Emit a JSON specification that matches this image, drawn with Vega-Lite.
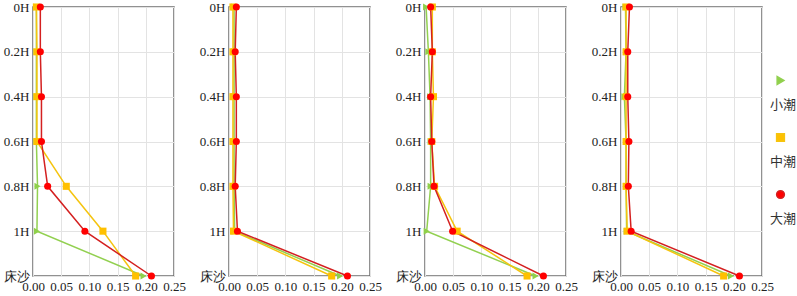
{
  "$schema": "https://vega.github.io/schema/vega-lite/v6.json",
  "padding": {"left": 2, "top": 0, "right": 0, "bottom": 0},
  "background": "white",
  "data": {"values": [
    {"p":1,"t":"小潮","d":"0H","v":0.006},{"p":1,"t":"小潮","d":"0.2H","v":0.006},{"p":1,"t":"小潮","d":"0.4H","v":0.006},{"p":1,"t":"小潮","d":"0.6H","v":0.006},{"p":1,"t":"小潮","d":"0.8H","v":0.008},{"p":1,"t":"小潮","d":"1H","v":0.007},{"p":1,"t":"小潮","d":"床沙","v":0.196},
    {"p":1,"t":"中潮","d":"0H","v":0.006},{"p":1,"t":"中潮","d":"0.2H","v":0.007},{"p":1,"t":"中潮","d":"0.4H","v":0.007},{"p":1,"t":"中潮","d":"0.6H","v":0.007},{"p":1,"t":"中潮","d":"0.8H","v":0.059},{"p":1,"t":"中潮","d":"1H","v":0.124},{"p":1,"t":"中潮","d":"床沙","v":0.182},
    {"p":1,"t":"大潮","d":"0H","v":0.013},{"p":1,"t":"大潮","d":"0.2H","v":0.013},{"p":1,"t":"大潮","d":"0.4H","v":0.015},{"p":1,"t":"大潮","d":"0.6H","v":0.015},{"p":1,"t":"大潮","d":"0.8H","v":0.026},{"p":1,"t":"大潮","d":"1H","v":0.092},{"p":1,"t":"大潮","d":"床沙","v":0.210},
    {"p":2,"t":"小潮","d":"0H","v":0.009},{"p":2,"t":"小潮","d":"0.2H","v":0.009},{"p":2,"t":"小潮","d":"0.4H","v":0.009},{"p":2,"t":"小潮","d":"0.6H","v":0.009},{"p":2,"t":"小潮","d":"0.8H","v":0.009},{"p":2,"t":"小潮","d":"1H","v":0.010},{"p":2,"t":"小潮","d":"床沙","v":0.197},
    {"p":2,"t":"中潮","d":"0H","v":0.007},{"p":2,"t":"中潮","d":"0.2H","v":0.007},{"p":2,"t":"中潮","d":"0.4H","v":0.007},{"p":2,"t":"中潮","d":"0.6H","v":0.007},{"p":2,"t":"中潮","d":"0.8H","v":0.007},{"p":2,"t":"中潮","d":"1H","v":0.008},{"p":2,"t":"中潮","d":"床沙","v":0.182},
    {"p":2,"t":"大潮","d":"0H","v":0.013},{"p":2,"t":"大潮","d":"0.2H","v":0.011},{"p":2,"t":"大潮","d":"0.4H","v":0.013},{"p":2,"t":"大潮","d":"0.6H","v":0.013},{"p":2,"t":"大潮","d":"0.8H","v":0.011},{"p":2,"t":"大潮","d":"1H","v":0.015},{"p":2,"t":"大潮","d":"床沙","v":0.210},
    {"p":3,"t":"小潮","d":"0H","v":0.002},{"p":3,"t":"小潮","d":"0.2H","v":0.006},{"p":3,"t":"小潮","d":"0.4H","v":0.009},{"p":3,"t":"小潮","d":"0.6H","v":0.010},{"p":3,"t":"小潮","d":"0.8H","v":0.010},{"p":3,"t":"小潮","d":"1H","v":0.003},{"p":3,"t":"小潮","d":"床沙","v":0.196},
    {"p":3,"t":"中潮","d":"0H","v":0.013},{"p":3,"t":"中潮","d":"0.2H","v":0.013},{"p":3,"t":"中潮","d":"0.4H","v":0.015},{"p":3,"t":"中潮","d":"0.6H","v":0.012},{"p":3,"t":"中潮","d":"0.8H","v":0.017},{"p":3,"t":"中潮","d":"1H","v":0.057},{"p":3,"t":"中潮","d":"床沙","v":0.181},
    {"p":3,"t":"大潮","d":"0H","v":0.010},{"p":3,"t":"大潮","d":"0.2H","v":0.013},{"p":3,"t":"大潮","d":"0.4H","v":0.010},{"p":3,"t":"大潮","d":"0.6H","v":0.012},{"p":3,"t":"大潮","d":"0.8H","v":0.016},{"p":3,"t":"大潮","d":"1H","v":0.049},{"p":3,"t":"大潮","d":"床沙","v":0.210},
    {"p":4,"t":"小潮","d":"0H","v":0.008},{"p":4,"t":"小潮","d":"0.2H","v":0.009},{"p":4,"t":"小潮","d":"0.4H","v":0.006},{"p":4,"t":"小潮","d":"0.6H","v":0.009},{"p":4,"t":"小潮","d":"0.8H","v":0.009},{"p":4,"t":"小潮","d":"1H","v":0.010},{"p":4,"t":"小潮","d":"床沙","v":0.195},
    {"p":4,"t":"中潮","d":"0H","v":0.009},{"p":4,"t":"中潮","d":"0.2H","v":0.009},{"p":4,"t":"中潮","d":"0.4H","v":0.009},{"p":4,"t":"中潮","d":"0.6H","v":0.009},{"p":4,"t":"中潮","d":"0.8H","v":0.009},{"p":4,"t":"中潮","d":"1H","v":0.011},{"p":4,"t":"中潮","d":"床沙","v":0.182},
    {"p":4,"t":"大潮","d":"0H","v":0.015},{"p":4,"t":"大潮","d":"0.2H","v":0.012},{"p":4,"t":"大潮","d":"0.4H","v":0.012},{"p":4,"t":"大潮","d":"0.6H","v":0.014},{"p":4,"t":"大潮","d":"0.8H","v":0.013},{"p":4,"t":"大潮","d":"1H","v":0.018},{"p":4,"t":"大潮","d":"床沙","v":0.210}
  ]},
  "spacing": 11,
  "hconcat": [
    {"width": 141, "height": 269, "transform": [{"filter": "datum.p == 1"}],
     "encoding": {
       "x": {"field": "v", "type": "quantitative", "title": null, "scale": {"domain": [0, 0.25], "nice": false},
         "axis": {"values": [0, 0.05, 0.1, 0.15, 0.2, 0.25], "format": ".2f"}},
       "y": {"field": "d", "type": "ordinal", "title": null, "scale": {"type": "point", "padding": 0, "domain": ["0H","0.2H","0.4H","0.6H","0.8H","1H","床沙"]}, "axis": {"grid": true}}
     },
     "layer": [
       {"mark": {"type": "line", "strokeWidth": 1.5}, "encoding": {"stroke": {"field": "t", "type": "nominal", "scale": {"domain": ["小潮","中潮","大潮"], "range": ["#92d050", "#f5c40f", "#d42020"]}}, "order": {"value": null}}},
       {"mark": {"type": "point", "filled": true, "opacity": 1, "size": 50}, "encoding": {
         "color": {"field": "t", "type": "nominal", "scale": {"domain": ["小潮","中潮","大潮"], "range": ["#8fd04a", "#ffc000", "#ff0000"]},
           "legend": {"encoding": {
             "labels": {"dx": {"value": -3.9}, "dy": {"value": 24}},
             "symbols": {"size": {"value": 60}}}}},
         "shape": {"field": "t", "type": "nominal", "scale": {"domain": ["小潮","中潮","大潮"], "range": ["triangle-right", "square", "circle"]}}}}
     ]},
    {"width": 141, "height": 269, "transform": [{"filter": "datum.p == 2"}],
     "encoding": {
       "x": {"field": "v", "type": "quantitative", "title": null, "scale": {"domain": [0, 0.25], "nice": false},
         "axis": {"values": [0, 0.05, 0.1, 0.15, 0.2, 0.25], "format": ".2f"}},
       "y": {"field": "d", "type": "ordinal", "title": null, "scale": {"type": "point", "padding": 0, "domain": ["0H","0.2H","0.4H","0.6H","0.8H","1H","床沙"]}, "axis": {"grid": true}}
     },
     "layer": [
       {"mark": {"type": "line", "strokeWidth": 1.5}, "encoding": {"stroke": {"field": "t", "type": "nominal"}, "order": {"value": null}}},
       {"mark": {"type": "point", "filled": true, "opacity": 1, "size": 50}, "encoding": {
         "color": {"field": "t", "type": "nominal"},
         "shape": {"field": "t", "type": "nominal"}}}
     ]},
    {"width": 141, "height": 269, "transform": [{"filter": "datum.p == 3"}],
     "encoding": {
       "x": {"field": "v", "type": "quantitative", "title": null, "scale": {"domain": [0, 0.25], "nice": false},
         "axis": {"values": [0, 0.05, 0.1, 0.15, 0.2, 0.25], "format": ".2f"}},
       "y": {"field": "d", "type": "ordinal", "title": null, "scale": {"type": "point", "padding": 0, "domain": ["0H","0.2H","0.4H","0.6H","0.8H","1H","床沙"]}, "axis": {"grid": true}}
     },
     "layer": [
       {"mark": {"type": "line", "strokeWidth": 1.5}, "encoding": {"stroke": {"field": "t", "type": "nominal"}, "order": {"value": null}}},
       {"mark": {"type": "point", "filled": true, "opacity": 1, "size": 50}, "encoding": {
         "color": {"field": "t", "type": "nominal"},
         "shape": {"field": "t", "type": "nominal"}}}
     ]},
    {"width": 141, "height": 269, "transform": [{"filter": "datum.p == 4"}],
     "encoding": {
       "x": {"field": "v", "type": "quantitative", "title": null, "scale": {"domain": [0, 0.25], "nice": false},
         "axis": {"values": [0, 0.05, 0.1, 0.15, 0.2, 0.25], "format": ".2f"}},
       "y": {"field": "d", "type": "ordinal", "title": null, "scale": {"type": "point", "padding": 0, "domain": ["0H","0.2H","0.4H","0.6H","0.8H","1H","床沙"]}, "axis": {"grid": true}}
     },
     "layer": [
       {"mark": {"type": "line", "strokeWidth": 1.5}, "encoding": {"stroke": {"field": "t", "type": "nominal"}, "order": {"value": null}}},
       {"mark": {"type": "point", "filled": true, "opacity": 1, "size": 50}, "encoding": {
         "color": {"field": "t", "type": "nominal"},
         "shape": {"field": "t", "type": "nominal"}}}
     ]}
  ],
  "resolve": {"scale": {"color": "shared", "shape": "shared", "stroke": "shared"}},
  "config": {
    "font": "Liberation Serif",
    "view": {"stroke": "#6e6e6e", "strokeWidth": 1.5},
    "axis": {"ticks": false, "domain": false, "labelPadding": 4, "gridColor": "#e3e3e3", "labelFlush": false,
      "labelFont": "Liberation Serif", "labelFontSize": 13, "labelColor": "#222222", "labelOverlap": false},
    "legend": {
      "title": null, "orient": "none", "legendX": 741, "legendY": 67,
      "padding": 0, "symbolSize": 60, "rowPadding": 18, "labelOffset": 0,
      "labelAlign": "center", "labelFontSize": 13, "labelColor": "#333333",
      "labelFont": "Noto Sans CJK SC"
    }
  }
}
